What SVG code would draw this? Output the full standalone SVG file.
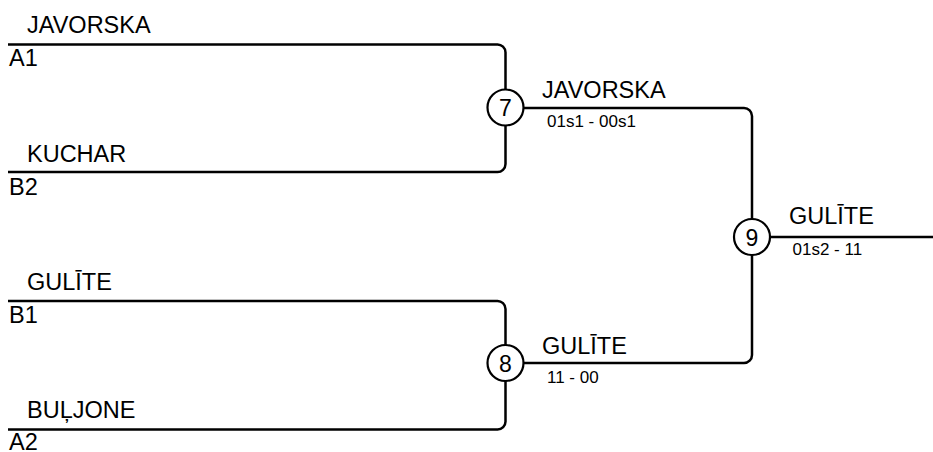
<svg xmlns="http://www.w3.org/2000/svg" width="933" height="452" viewBox="0 0 933 452">
<style>
.ln{fill:none;stroke:#000;stroke-width:2.5}
.c{fill:#fff;stroke:#000;stroke-width:2.2}
.nm{font-family:"Liberation Sans",Arial,sans-serif;font-size:23.5px;fill:#000}
.sc{font-family:"Liberation Sans",Arial,sans-serif;font-size:17px;fill:#000}
.num{font-family:"Liberation Sans",Arial,sans-serif;font-size:23px;fill:#000;text-anchor:middle}
</style>
<rect width="933" height="452" fill="#fff"/>
<g id="connectors">
<path class="ln" d="M8,44.5 H497 A8,8 0 0 1 505.5,52.5 V164 A8,8 0 0 1 497,172 H8"/>
<path class="ln" d="M8,301 H497 A8,8 0 0 1 505.5,309 V421 A8,8 0 0 1 497,429.5 H8"/>
<path class="ln" d="M505.5,108 H744 A8,8 0 0 1 752,116 V355 A8,8 0 0 1 744,363 H505.5"/>
<path class="ln" d="M752,237 H933"/>
</g>
<g id="entry-a1">
<text class="nm" x="27" y="33">JAVORSKA</text>
<text class="nm" x="9" y="66">A1</text>
</g>
<g id="entry-b2">
<text class="nm" x="27" y="162">KUCHAR</text>
<text class="nm" x="9" y="194.5">B2</text>
</g>
<g id="entry-b1">
<text class="nm" x="27" y="290">GULĪTE</text>
<text class="nm" x="9" y="323">B1</text>
</g>
<g id="entry-a2">
<text class="nm" x="27" y="417.5">BUĻJONE</text>
<text class="nm" x="9" y="449.5">A2</text>
</g>
<g id="match-7">
<circle class="c" cx="505.5" cy="107.5" r="18"/>
<text class="num" x="505.5" y="116">7</text>
<text class="nm" x="542" y="97.5">JAVORSKA</text>
<text class="sc" x="547" y="126.5">01s1 - 00s1</text>
</g>
<g id="match-8">
<circle class="c" cx="505.5" cy="363" r="18"/>
<text class="num" x="505.5" y="371.5">8</text>
<text class="nm" x="542" y="354">GULĪTE</text>
<text class="sc" x="547" y="383">11 - 00</text>
</g>
<g id="match-9">
<circle class="c" cx="752" cy="237" r="18"/>
<text class="num" x="752" y="245.5">9</text>
<text class="nm" x="789" y="223.5">GULĪTE</text>
<text class="sc" x="792.5" y="255">01s2 - 11</text>
</g>
</svg>
